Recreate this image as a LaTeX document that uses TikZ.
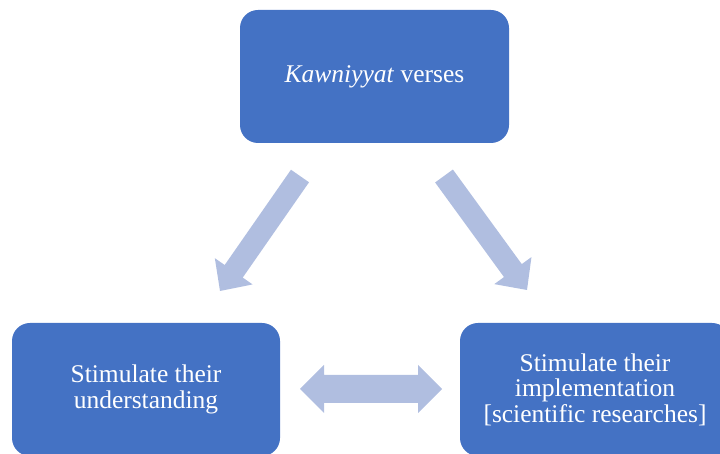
\documentclass[tikz,border=0pt]{standalone}
\usepackage{fontspec}
\setmainfont{Liberation Serif}
\usetikzlibrary{calc}
\definecolor{boxblue}{RGB}{68,114,196}
\definecolor{arrowc}{RGB}{176,190,224}
\tikzset{
  bluebox/.style={fill=boxblue, rounded corners=18pt, text=white, align=center,
    inner sep=0pt, font=\fontsize{25.5}{25.5}\selectfont},
  blockarrow/.style={fill=arrowc}
}
\newcommand\blkarrow[5]{% tail, tip, half shaft, half head, head length
  \coordinate (H) at ($(#2)!#5!(#1)$);
  \fill[blockarrow] ($(#1)!#3!90:(#2)$) -- ($(H)!#3!90:(#2)$) -- ($(H)!#4!90:(#2)$) -- (#2)
    -- ($(H)!#4!-90:(#2)$) -- ($(H)!#3!-90:(#2)$) -- ($(#1)!#3!-90:(#2)$) -- cycle;
}
\begin{document}
\begin{tikzpicture}[x=1pt,y=1pt]
\useasboundingbox (0,0) rectangle (720,454);
\clip (0,0) rectangle (720,454);
\node[bluebox, minimum width=269pt, minimum height=133pt] (top) at (374.5,377.5) {\textit{Kawniyyat} verses};
\node[bluebox, minimum width=268pt, minimum height=133pt] (left) at (146,64.5) {Stimulate their\\understanding};
\node[bluebox, minimum width=270pt, minimum height=133pt] (right) at (595,64.5) {Stimulate their\\implementation\\{[}scientific researches{]}};
% arrows
\coordinate (lt) at (300,278);
\coordinate (lp) at (220,163);
\coordinate (rt) at (444,278);
\coordinate (rp) at (527,164);
\blkarrow{lt}{lp}{11pt}{23pt}{24pt}
\blkarrow{rt}{rp}{11pt}{23pt}{24pt}
% double arrow
\coordinate (dl) at (300,65);
\coordinate (dr) at (442,65);
\fill[blockarrow] (dl) -- ($(dl)+(24,24)$) -- ($(dl)+(24,14)$) -- ($(dr)+(-24,14)$) -- ($(dr)+(-24,24)$) -- (dr)
  -- ($(dr)+(-24,-24)$) -- ($(dr)+(-24,-14)$) -- ($(dl)+(24,-14)$) -- ($(dl)+(24,-24)$) -- cycle;
\end{tikzpicture}
\end{document}
